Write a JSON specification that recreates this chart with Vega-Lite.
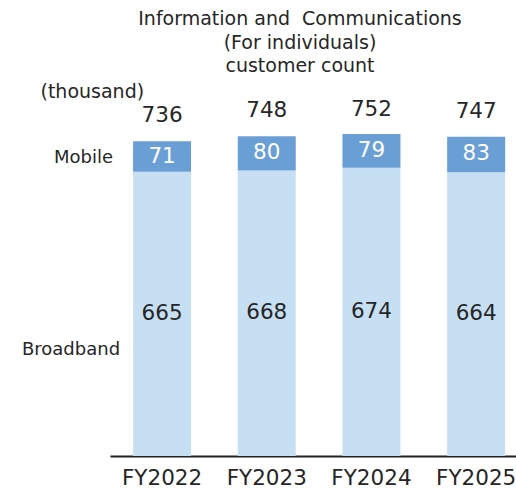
{
  "$schema": "https://vega.github.io/schema/vega-lite/v6.json",
  "width": 406,
  "height": 342,
  "autosize": {"type": "none"},
  "padding": {"left": 110, "top": 114, "right": 0, "bottom": 32},
  "background": "white",
  "config": {"view": {"stroke": null}, "font": "DejaVu Sans"},
  "title": {
    "text": ["Information and\u00a0 Communications", "(For individuals)", "customer count"],
    "fontSize": 19,
    "fontWeight": "normal",
    "color": "#262626",
    "lineHeight": 23.5,
    "anchor": "middle",
    "dx": -13,
    "offset": 6
  },
  "datasets": {
    "bars": [
      {"year": "FY2022", "series": "Broadband", "value": 665},
      {"year": "FY2022", "series": "Mobile", "value": 71},
      {"year": "FY2023", "series": "Broadband", "value": 668},
      {"year": "FY2023", "series": "Mobile", "value": 80},
      {"year": "FY2024", "series": "Broadband", "value": 674},
      {"year": "FY2024", "series": "Mobile", "value": 79},
      {"year": "FY2025", "series": "Broadband", "value": 664},
      {"year": "FY2025", "series": "Mobile", "value": 83}
    ],
    "totals": [
      {"year": "FY2022", "total": 736},
      {"year": "FY2023", "total": 748},
      {"year": "FY2024", "total": 752},
      {"year": "FY2025", "total": 747}
    ],
    "mobileLabel": [{"year": "FY2022", "name": "Mobile", "pos": 698}],
    "broadbandLabel": [{"year": "FY2022", "name": "Broadband", "pos": 247}]
  },
  "layer": [
    {
      "data": {"name": "bars"},
      "mark": {"type": "bar"},
      "encoding": {
        "x": {
          "field": "year", "type": "nominal",
          "scale": {"paddingInner": 0.446, "paddingOuter": 0.162, "align": 0.68},
          "axis": {
            "title": null, "labelAngle": 0, "labelFontSize": 21.5, "labelColor": "#262626",
            "labelPadding": 11, "ticks": false, "domainColor": "#222222", "domainWidth": 2
          }
        },
        "y": {
          "field": "value", "type": "quantitative",
          "scale": {"domain": [0, 800], "nice": false},
          "axis": {
            "labels": false, "ticks": false, "domain": false, "grid": false,
            "title": "(thousand)", "titleAngle": 0, "titleAlign": "left",
            "titleBaseline": "alphabetic", "titleX": -70, "titleY": -17,
            "titleFontSize": 19, "titleFontWeight": "normal", "titleColor": "#262626"
          }
        },
        "order": {"field": "series", "sort": "ascending"},
        "color": {
          "field": "series", "type": "nominal",
          "scale": {"domain": ["Broadband", "Mobile"], "range": ["#c7dff3", "#6a9fd6"]},
          "legend": null
        }
      }
    },
    {
      "data": {"name": "bars"},
      "mark": {"type": "text", "fontSize": 21.5, "baseline": "middle"},
      "encoding": {
        "x": {"field": "year", "type": "nominal"},
        "y": {"field": "value", "type": "quantitative", "stack": "zero", "bandPosition": 0.5},
        "detail": {"field": "series"},
        "order": {"field": "series", "sort": "ascending"},
        "text": {"field": "value"},
        "color": {
          "condition": {"test": "datum.series === 'Mobile'", "value": "white"},
          "value": "#262626"
        }
      }
    },
    {
      "data": {"name": "totals"},
      "mark": {"type": "text", "fontSize": 21.5, "baseline": "alphabetic", "dy": -19, "color": "#262626"},
      "encoding": {
        "x": {"field": "year", "type": "nominal"},
        "y": {"field": "total", "type": "quantitative"},
        "text": {"field": "total"}
      }
    },
    {
      "data": {"name": "mobileLabel"},
      "mark": {"type": "text", "fontSize": 18, "align": "right", "baseline": "middle", "dx": -49, "color": "#262626"},
      "encoding": {
        "x": {"field": "year", "type": "nominal"},
        "y": {"field": "pos", "type": "quantitative"},
        "text": {"field": "name"}
      }
    },
    {
      "data": {"name": "broadbandLabel"},
      "mark": {"type": "text", "fontSize": 18, "align": "right", "baseline": "middle", "dx": -42, "color": "#262626"},
      "encoding": {
        "x": {"field": "year", "type": "nominal"},
        "y": {"field": "pos", "type": "quantitative"},
        "text": {"field": "name"}
      }
    }
  ]
}
